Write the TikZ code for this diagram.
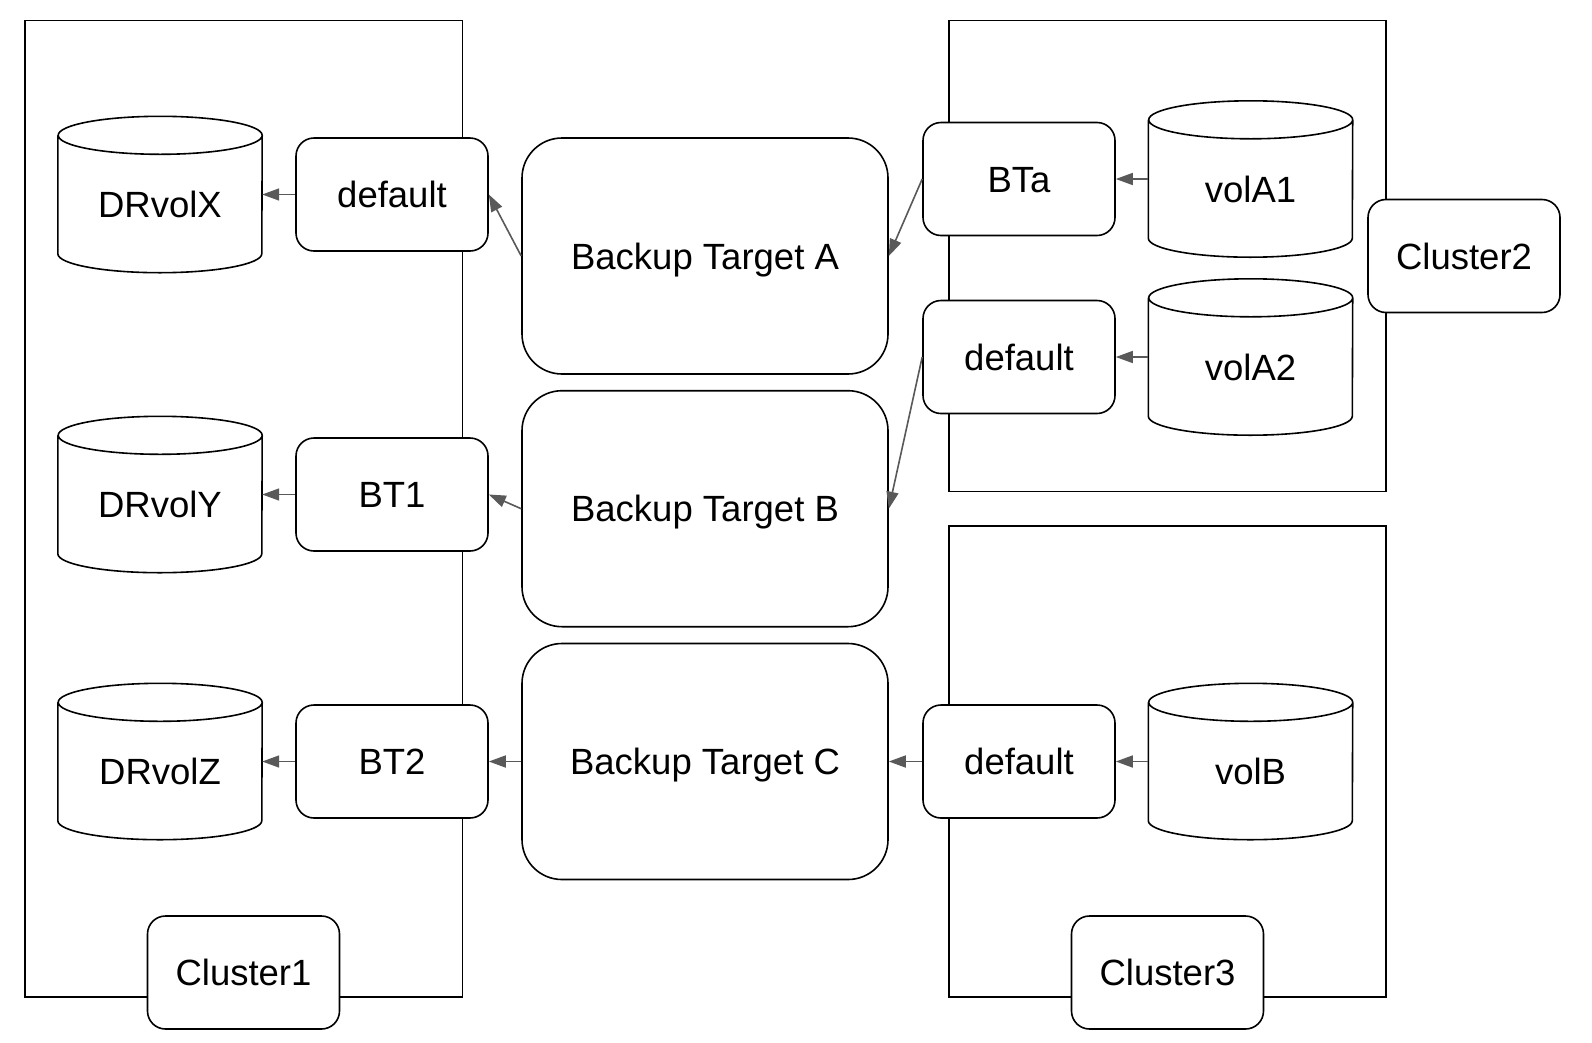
\documentclass[tikz,border=0pt]{standalone}
\usepackage{fontspec}
\setmainfont{Liberation Sans}
\usetikzlibrary{arrows.meta}
\definecolor{arrowgray}{HTML}{595959}
\newcommand\volnode[4]{%
  \node[volbox] (#1) at (#2,#3) {#4};
  \draw[volline] ([yshift=-19pt]#1.north west) -- ([yshift=19pt]#1.south west)
    arc[start angle=180,end angle=360,x radius=102pt,y radius=19pt]
    -- ([yshift=-19pt]#1.north east)
    arc[start angle=0,end angle=-180,x radius=102pt,y radius=19pt]
    arc[start angle=180,end angle=0,x radius=102pt,y radius=19pt];
}
\begin{document}
\begin{tikzpicture}[x=1pt,y=1pt,
  every node/.style={font=\fontsize{36.5}{44}\selectfont},
  cluster/.style={draw=black, line width=1.5pt, inner sep=0pt},
  box/.style={draw=black, fill=white, line width=1.6pt, rounded corners=18pt,
    minimum width=192pt, minimum height=113pt, inner sep=0pt,
    text height=26pt, text depth=0pt},
  bigbox/.style={box, rounded corners=40pt, minimum width=366pt, minimum height=236pt},
  volbox/.style={inner sep=0pt, minimum width=204pt, minimum height=156pt,
    text height=46pt, text depth=0pt},
  volline/.style={draw=black, line width=1.6pt, line join=round},
  conn/.style={draw=arrowgray, line width=1.6pt, -{Triangle[length=17pt,width=12pt]}}
]
\useasboundingbox[fill=white] (0,0) rectangle (1592,-1042);

% cluster frames
\node[cluster, minimum width=437.5pt, minimum height=976.5pt] (c1frame) at (243.75,-508.75) {};
\node[cluster, minimum width=437pt, minimum height=471pt] (c2frame) at (1167.5,-256) {};
\node[cluster, minimum width=437pt, minimum height=471pt] (c3frame) at (1167.5,-761.5) {};

% cluster labels
\node[box] (c1label) at (243.5,-972.5) {Cluster1};
\node[box] (c2label) at (1464,-256) {Cluster2};
\node[box] (c3label) at (1167.5,-972.5) {Cluster3};

% backup targets
\node[bigbox] (bta) at (705,-256) {Backup Target A};
\node[bigbox] (btb) at (705,-508.7) {Backup Target B};
\node[bigbox] (btc) at (705,-761.5) {Backup Target C};

% cluster1 boxes
\node[box] (dl) at (392,-194.5) {default};
\node[box] (bt1) at (392,-494.5) {BT1};
\node[box] (bt2) at (392,-761.5) {BT2};

% cluster2/3 boxes
\node[box] (bta2) at (1019,-179) {BTa};
\node[box] (da2) at (1019,-357) {default};
\node[box] (db3) at (1019,-761.5) {default};

% volumes
\volnode{drx}{160}{-194.5}{DRvolX}
\volnode{dry}{160}{-494.5}{DRvolY}
\volnode{drz}{160}{-761.5}{DRvolZ}
\volnode{va1}{1250.5}{-179}{volA1}
\volnode{va2}{1250.5}{-357}{volA2}
\volnode{vb}{1250.5}{-761.5}{volB}

% connectors
\draw[conn] (dl.west) -- (drx.east);
\draw[conn] (bt1.west) -- (dry.east);
\draw[conn] (bt2.west) -- (drz.east);
\draw[conn] (bta.west) -- (dl.east);
\draw[conn] (btb.west) -- (bt1.east);
\draw[conn] (btc.west) -- (bt2.east);
\draw[conn] (bta2.west) -- (bta.east);
\draw[conn] (da2.west) -- (btb.east);
\draw[conn] (db3.west) -- (btc.east);
\draw[conn] (va1.west) -- (bta2.east);
\draw[conn] (va2.west) -- (da2.east);
\draw[conn] (vb.west) -- (db3.east);
\end{tikzpicture}
\end{document}
